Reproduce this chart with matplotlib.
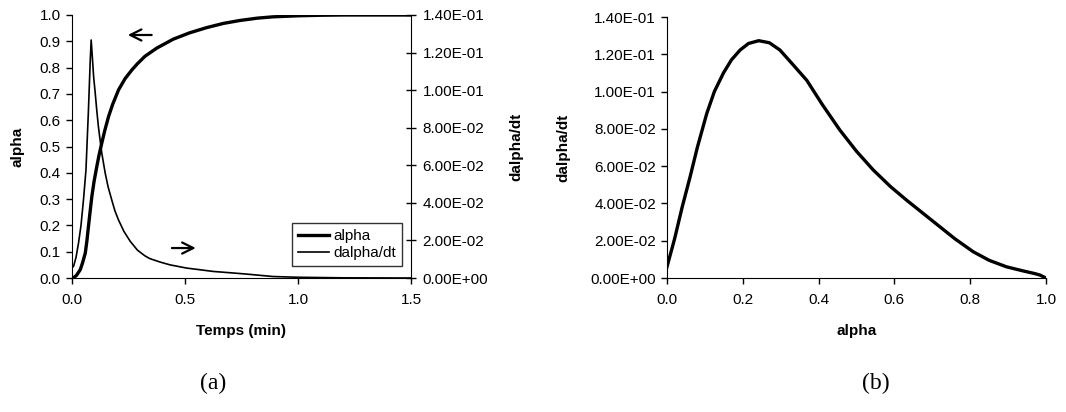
import matplotlib
matplotlib.use("Agg")
import matplotlib.pyplot as plt
from matplotlib.ticker import FuncFormatter, MultipleLocator

plt.rcParams['font.family'] = ['Liberation Sans', 'DejaVu Sans']

# (a) alpha vs time
t_alpha = [0.0, 0.01, 0.02, 0.037, 0.047, 0.059, 0.066, 0.073, 0.08, 0.088, 0.098, 0.11,
           0.12, 0.132, 0.145, 0.162, 0.18, 0.206, 0.235, 0.265, 0.29, 0.323, 0.375,
           0.448, 0.52, 0.596, 0.67, 0.742, 0.82, 0.889, 1.0, 1.1, 1.2, 1.5]
alpha = [0.0, 0.003, 0.01, 0.032, 0.058, 0.095, 0.14, 0.196, 0.25, 0.31, 0.368, 0.424,
         0.468, 0.513, 0.56, 0.614, 0.66, 0.715, 0.758, 0.791, 0.815, 0.843, 0.874,
         0.908, 0.932, 0.952, 0.968, 0.979, 0.988, 0.993, 0.997, 0.999, 1.0, 1.0]

# (a) dalpha/dt vs time
t_rate = [0.0, 0.007, 0.018, 0.029, 0.04, 0.051, 0.062, 0.073, 0.081, 0.085, 0.09, 0.096,
          0.103, 0.11, 0.117, 0.132, 0.147, 0.16, 0.176, 0.19, 0.206, 0.23, 0.258, 0.29,
          0.323, 0.345, 0.39, 0.434, 0.507, 0.56, 0.625, 0.7, 0.772, 0.889, 1.0, 1.2, 1.5]
rate = [0.0055, 0.0062, 0.011, 0.0186, 0.028, 0.0416, 0.0575, 0.0895, 0.116, 0.1267, 0.118,
        0.107, 0.0984, 0.089, 0.0806, 0.0665, 0.0559, 0.0485, 0.0416, 0.0358, 0.0309,
        0.0248, 0.0195, 0.0148, 0.0118, 0.0103, 0.0085, 0.0070, 0.0053, 0.0045, 0.0035,
        0.0028, 0.0021, 0.0008, 0.0004, 0.0001, 0.0]

# (b) dalpha/dt vs alpha
alpha_b = [0.0, 0.02, 0.04, 0.061, 0.08, 0.105, 0.125, 0.149, 0.17, 0.193, 0.215, 0.242,
           0.27, 0.298, 0.33, 0.369, 0.41, 0.456, 0.5, 0.544, 0.59, 0.632, 0.68, 0.72,
           0.76, 0.808, 0.85, 0.896, 0.94, 0.97, 0.984, 1.0]
rate_b = [0.006, 0.021, 0.038, 0.0543, 0.070, 0.0883, 0.100, 0.110, 0.117, 0.1223, 0.1258,
          0.1273, 0.1262, 0.1223, 0.115, 0.106, 0.093, 0.0794, 0.068, 0.058, 0.049, 0.0418,
          0.034, 0.0275, 0.021, 0.0141, 0.0095, 0.006, 0.0038, 0.0024, 0.0016, 0.0]

sci = FuncFormatter(lambda v, p: f"{v:.2E}")
one = FuncFormatter(lambda v, p: f"{v:.1f}")
fs = 11

fig = plt.figure(figsize=(10.66, 4.12), dpi=100)

# ---- (a)
ax1 = fig.add_axes([0.0675, 0.3252, 0.318, 0.6384])
ax2 = ax1.twinx()
l1, = ax1.plot(t_alpha, alpha, color='black', lw=2.4)
l2, = ax2.plot(t_rate, rate, color='black', lw=1.2)
ax1.set_xlim(0, 1.5)
ax1.set_ylim(0, 1.0)
ax2.set_ylim(0, 0.14)
ax1.xaxis.set_major_locator(MultipleLocator(0.5))
ax1.yaxis.set_major_locator(MultipleLocator(0.1))
ax2.yaxis.set_major_locator(MultipleLocator(0.02))
ax1.xaxis.set_major_formatter(one)
ax1.yaxis.set_major_formatter(one)
ax2.yaxis.set_major_formatter(sci)
for s in ['top', 'right']:
    ax1.spines[s].set_visible(False)
for s in ['top', 'left', 'bottom']:
    ax2.spines[s].set_visible(False)
ax1.tick_params(axis='both', direction='out', length=4, width=1, labelsize=fs, pad=4)
ax1.tick_params(axis='x', pad=7)
ax2.tick_params(axis='y', direction='inout', length=7, width=1, labelsize=fs, pad=5)
ax1.set_xlabel('Temps (min)', fontweight='bold', fontsize=fs)
ax1.set_ylabel('alpha', fontweight='bold', fontsize=fs)
ax2.set_ylabel('dalpha/dt', fontweight='bold', fontsize=fs)
ax1.xaxis.set_label_coords(0.5, -0.175)
ax1.yaxis.set_label_coords(-0.14, 0.5)
ax2.yaxis.set_label_coords(1.29, 0.5)

# direction arrows
ax1.annotate('', xy=(0.235, 0.924), xytext=(0.365, 0.924),
             arrowprops=dict(arrowstyle='->', color='black', lw=1.6, mutation_scale=20))
ax1.annotate('', xy=(0.56, 0.114), xytext=(0.43, 0.114),
             arrowprops=dict(arrowstyle='->', color='black', lw=1.6, mutation_scale=20))

leg = ax1.legend([l1, l2], ['alpha', 'dalpha/dt'], loc='lower right',
                 bbox_to_anchor=(0.975, 0.045), frameon=True, fancybox=False,
                 fontsize=fs, handlelength=2.0, handletextpad=0.3,
                 borderpad=0.4, labelspacing=0.2, borderaxespad=0)
leg.get_frame().set_edgecolor('black')
leg.get_frame().set_linewidth(1.0)

# ---- (b)
ax3 = fig.add_axes([0.6257, 0.3252, 0.3555, 0.6335])
ax3.plot(alpha_b, rate_b, color='black', lw=2.4)
ax3.set_xlim(0, 1.0)
ax3.set_ylim(0, 0.14)
ax3.xaxis.set_major_locator(MultipleLocator(0.2))
ax3.yaxis.set_major_locator(MultipleLocator(0.02))
ax3.xaxis.set_major_formatter(one)
ax3.yaxis.set_major_formatter(sci)
for s in ['top', 'right']:
    ax3.spines[s].set_visible(False)
ax3.tick_params(axis='both', direction='out', length=4, width=1, labelsize=fs, pad=4)
ax3.tick_params(axis='x', pad=7)
ax3.set_xlabel('alpha', fontweight='bold', fontsize=fs)
ax3.set_ylabel('dalpha/dt', fontweight='bold', fontsize=fs)
ax3.xaxis.set_label_coords(0.5, -0.175)
ax3.yaxis.set_label_coords(-0.255, 0.5)

fig.text(0.2, 0.07, '(a)', family='Liberation Serif', fontsize=17, ha='center', va='center')
fig.text(0.822, 0.07, '(b)', family='Liberation Serif', fontsize=17, ha='center', va='center')

fig.savefig('out.png', dpi=100)
